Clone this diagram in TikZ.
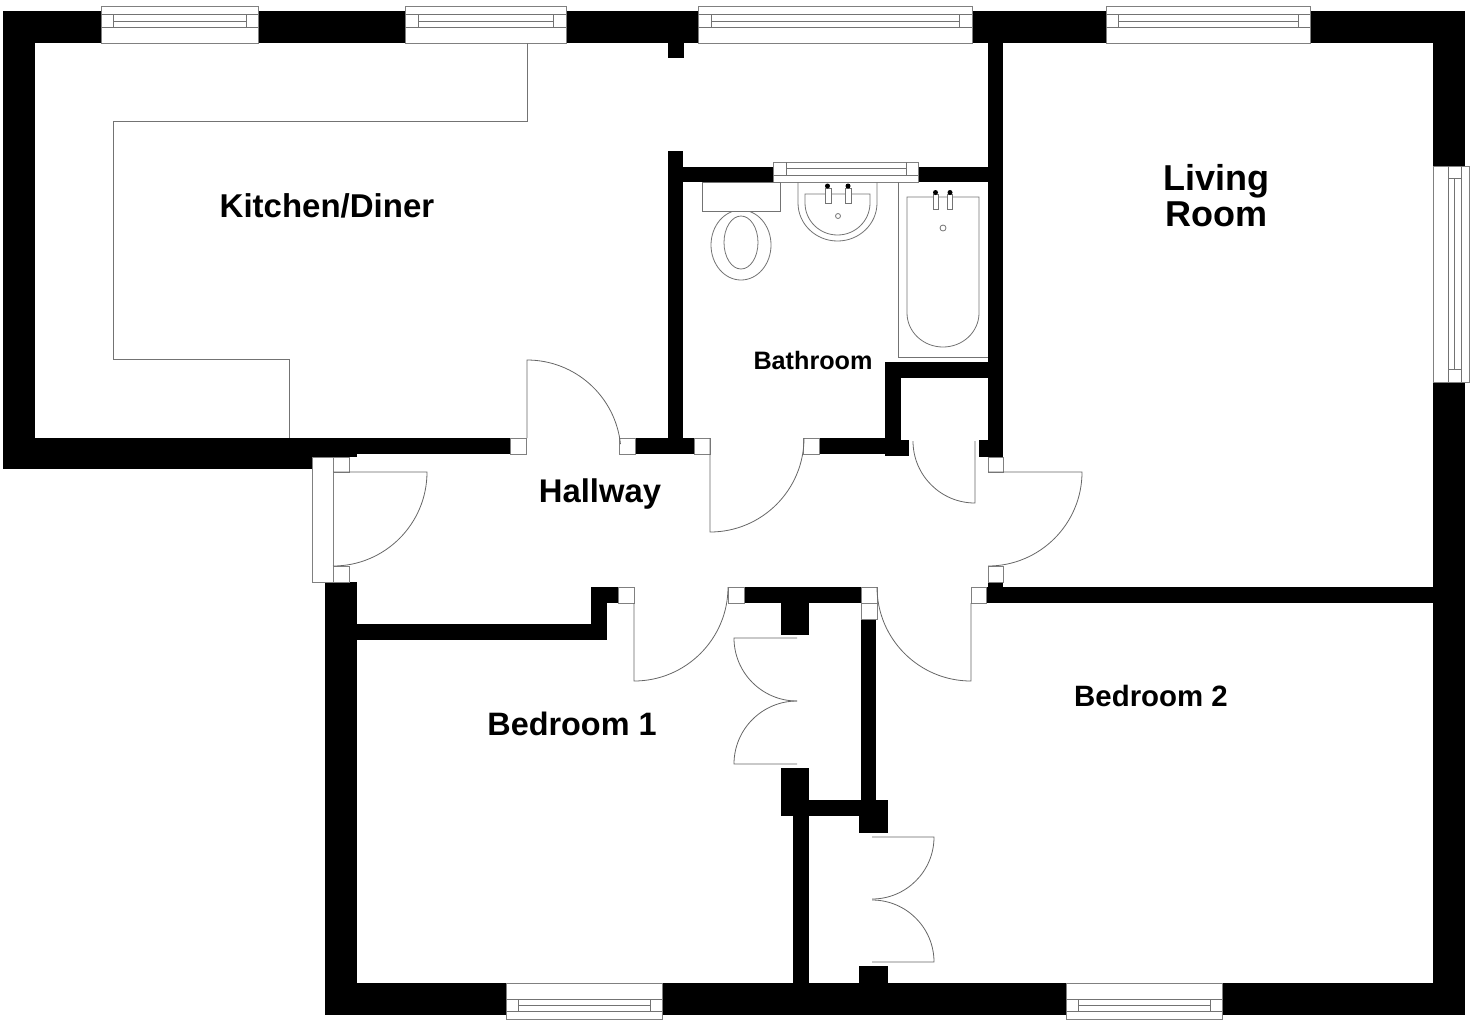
\documentclass[tikz,border=0pt]{standalone}
\usepackage{fontspec}
\setmainfont{Liberation Sans}
\tikzstyle{wall} = [fill=black]
\tikzstyle{frame} = [draw=black!50, line width=0.45pt, fill=white]
\tikzstyle{fit_line} = [draw=black!55, line width=0.4pt]
\tikzstyle{door} = [draw=black!60, line width=0.4pt]
\tikzstyle{room} = [font=\bfseries, text=black, align=center, inner sep=0pt]

\begin{document}
\begin{tikzpicture}[x=0.5pt, y=-0.5pt]
    \useasboundingbox (0,0) rectangle (1472,1024);

    % outer walls
    \fill [wall] (3,11) rectangle (1465,43);
    \fill [wall] (3,11) rectangle (35,469);
    \fill [wall] (3,438) rectangle (312,469);
    \fill [wall] (312,438) rectangle (357,457);
    \fill [wall] (357,438) rectangle (510,454);
    \fill [wall] (1433,11) rectangle (1465,1015);
    \fill [wall] (325,983) rectangle (1465,1015);
    \fill [wall] (325,582) rectangle (357,1015);

    % inner walls
    \fill [wall] (668,43) rectangle (684,58);
    \fill [wall] (668,151) rectangle (683,454);
    \fill [wall] (635,438) rectangle (694,454);
    \fill [wall] (683,167) rectangle (988,182);
    \fill [wall] (988,43) rectangle (1003,457);
    \fill [wall] (979,440) rectangle (1003,457);
    \fill [wall] (819,438) rectangle (885,454);
    \fill [wall] (885,362) rectangle (901,456);
    \fill [wall] (885,440) rectangle (909,456);
    \fill [wall] (885,362) rectangle (1003,378);
    \fill [wall] (986,587) rectangle (1433,603);
    \fill [wall] (988,582) rectangle (1003,603);
    \fill [wall] (357,624) rectangle (607,640);
    \fill [wall] (591,587) rectangle (607,640);
    \fill [wall] (591,587) rectangle (618,603);
    \fill [wall] (744,587) rectangle (861,603);
    \fill [wall] (781,603) rectangle (809,635);
    \fill [wall] (861,619) rectangle (876,833);
    \fill [wall] (859,800) rectangle (888,833);
    \fill [wall] (781,800) rectangle (888,816);
    \fill [wall] (781,768) rectangle (809,816);
    \fill [wall] (793,816) rectangle (809,983);
    \fill [wall] (859,966) rectangle (888,983);

    % windows
    \draw [frame] (101,6) rectangle (258,43);
    \draw [fit_line] (101,14) -- (258,14) (101,27) -- (258,27) (113,21) -- (246,21) (113,14) -- (113,27) (246,14) -- (246,27);
    \draw [frame] (405,6) rectangle (566,43);
    \draw [fit_line] (405,14) -- (566,14) (405,27) -- (566,27) (418,21) -- (553,21) (418,14) -- (418,27) (553,14) -- (553,27);
    \draw [frame] (698,6) rectangle (972,43);
    \draw [fit_line] (698,14) -- (972,14) (698,27) -- (972,27) (711,21) -- (959,21) (711,14) -- (711,27) (959,14) -- (959,27);
    \draw [frame] (1106,6) rectangle (1310,43);
    \draw [fit_line] (1106,14) -- (1310,14) (1106,27) -- (1310,27) (1118,21) -- (1298,21) (1118,14) -- (1118,27) (1298,14) -- (1298,27);
    \draw [frame] (1433,166) rectangle (1469,382);
    \draw [fit_line] (1448,166) -- (1448,382) (1461,166) -- (1461,382) (1454,178) -- (1454,369) (1448,178) -- (1461,178) (1448,369) -- (1461,369);
    \draw [frame] (506,983) rectangle (662,1019);
    \draw [fit_line] (506,999) -- (662,999) (506,1011) -- (662,1011) (518,1005) -- (650,1005) (518,999) -- (518,1011) (650,999) -- (650,1011);
    \draw [frame] (1066,983) rectangle (1222,1019);
    \draw [fit_line] (1066,999) -- (1222,999) (1066,1011) -- (1222,1011) (1078,1005) -- (1210,1005) (1078,999) -- (1078,1011) (1210,999) -- (1210,1011);
    \draw [frame] (773,162) rectangle (918,182);
    \draw [fit_line] (773,175) -- (918,175) (786,168) -- (906,168) (786,162) -- (786,175) (906,162) -- (906,175);

    % door jambs
    \draw [frame] (510,438) rectangle (526,454);
    \draw [frame] (619,438) rectangle (635,454);
    \draw [frame] (694,438) rectangle (710,454);
    \draw [frame] (803,438) rectangle (819,454);
    \draw [frame] (988,457) rectangle (1003,472);
    \draw [frame] (988,566) rectangle (1003,582);
    \draw [frame] (971,587) rectangle (986,603);
    \draw [frame] (861,587) rectangle (877,603);
    \draw [frame] (861,603) rectangle (877,619);
    \draw [frame] (728,587) rectangle (744,603);
    \draw [frame] (618,587) rectangle (634,603);
    \draw [frame] (312,457) rectangle (333,582);
    \draw [frame] (333,457) rectangle (349,472);
    \draw [frame] (333,566) rectangle (349,582);

    % door leaves
    \draw [door] (333,472) -- (427,472) arc [start angle=0, end angle=90, radius=94];
    \draw [door] (527,438) -- (527,360) arc [start angle=-90, end angle=-6, radius=94];
    \draw [door] (710,438) -- (710,532) arc [start angle=90, end angle=0, radius=94];
    \draw [door] (975,441) -- (975,503) arc [start angle=90, end angle=180, radius=62];
    \draw [door] (988,472) -- (1082,472) arc [start angle=0, end angle=90, radius=94];
    \draw [door] (971,603) -- (971,681) arc [start angle=90, end angle=180, radius=94];
    \draw [door] (634,603) -- (634,681) arc [start angle=90, end angle=0, radius=94];

    % wardrobe doors
    \draw [door] (797,638) -- (734,638) arc [start angle=180, end angle=90, radius=63];
    \draw [door] (797,764) -- (734,764) arc [start angle=180, end angle=270, radius=63];
    \draw [door] (872,837) -- (934,837) arc [start angle=0, end angle=90, radius=62];
    \draw [door] (872,962) -- (934,962) arc [start angle=0, end angle=-90, radius=62];

    % kitchen worktop
    \draw [fit_line] (527,43) -- (527,121) -- (113,121) -- (113,359) -- (289,359) -- (289,438);

    % toilet
    \draw [fit_line] (741,245) ellipse [x radius=30, y radius=35];
    \draw [fit_line] (741,242.5) ellipse [x radius=17, y radius=26.5];
    \draw [fit_line, fill=white] (702,182) rectangle (780,211);

    % basin
    \draw [fit_line] (798,182) -- (798,203) arc [start angle=180, end angle=0, x radius=39.5, y radius=38] -- (877,182);
    \draw [fit_line] (805,194) -- (805,203) arc [start angle=180, end angle=0, x radius=32.5, y radius=32] -- (870,194) -- cycle;
    \draw [fit_line, fill=white] (825,188) rectangle (831,203);
    \draw [fit_line, fill=white] (845,188) rectangle (851,203);
    \fill (827.5,186) circle [radius=2.5];
    \fill (848,186) circle [radius=2.5];
    \draw [fit_line] (838,216) circle [radius=2.5];

    % bath
    \draw [fit_line] (898,182) -- (898,357) -- (988,357);
    \draw [fit_line] (907,197) -- (907,313) arc [start angle=180, end angle=0, x radius=36, y radius=34] -- (979,197) -- cycle;
    \draw [fit_line, fill=white] (933,194) rectangle (938,209);
    \draw [fit_line, fill=white] (947,194) rectangle (952,209);
    \fill (935.5,192.5) circle [radius=2.5];
    \fill (950,192.5) circle [radius=2.5];
    \draw [fit_line] (943,228) circle [radius=3];

    % room names
    \node (kitchen) [room, font=\fontsize{16.5}{18}\bfseries] at (327,206) {Kitchen/Diner};
    \node (living) [room, font=\fontsize{18}{18}\bfseries] at (1216,196) {Living\\Room};
    \node (bathroom) [room, font=\fontsize{12.6}{14}\bfseries] at (813,360) {Bathroom};
    \node (hallway) [room, font=\fontsize{16.4}{18}\bfseries] at (600,494) {Hallway};
    \node (bedroom_one) [room, font=\fontsize{16.2}{18}\bfseries] at (572,724) {Bedroom 1};
    \node (bedroom_two) [room, font=\fontsize{14.7}{16}\bfseries] at (1151,696) {Bedroom 2};
\end{tikzpicture}
\end{document}
